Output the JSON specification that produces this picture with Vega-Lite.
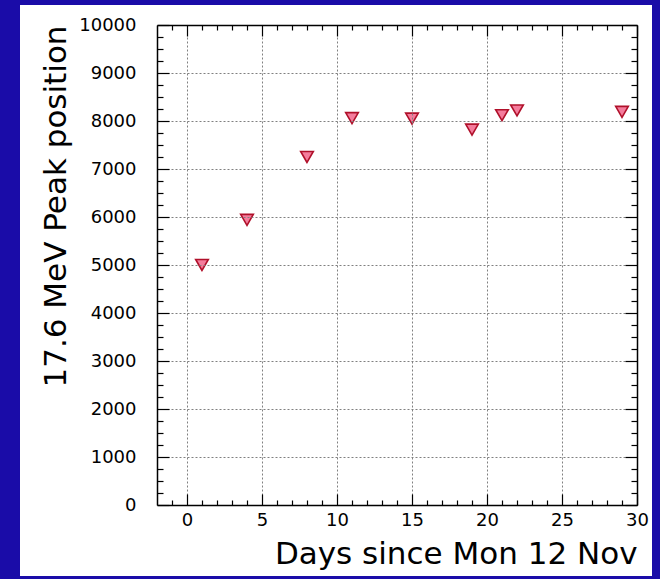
{
  "$schema": "https://vega.github.io/schema/vega-lite/v6.json",
  "width": 480,
  "height": 480,
  "autosize": {"type": "none"},
  "padding": {"left": 157, "top": 25, "right": 23, "bottom": 74},
  "background": "#1a0ca8",
  "config": {
    "view": {"stroke": null},
    "axis": {
      "domainColor": "#000000",
      "domainWidth": 1.5,
      "tickColor": "#000000",
      "tickWidth": 1.2,
      "labelFont": "DejaVu Sans",
      "labelFontSize": 18,
      "labelColor": "#000000",
      "titleFont": "DejaVu Sans",
      "titleFontSize": 31,
      "titleFontWeight": "normal",
      "titleColor": "#000000",
      "grid": false,
      "labelOverlap": false,
      "labelFlush": false
    }
  },
  "data": {
    "values": [
      {"day": 1, "peak": 5000},
      {"day": 4, "peak": 5940},
      {"day": 8, "peak": 7250},
      {"day": 11, "peak": 8060},
      {"day": 15, "peak": 8050},
      {"day": 19, "peak": 7820},
      {"day": 21, "peak": 8120},
      {"day": 22, "peak": 8220},
      {"day": 29, "peak": 8190}
    ]
  },
  "layer": [
    {
      "mark": {"type": "rect", "fill": "#ffffff", "clip": false},
      "encoding": {
        "x": {"datum": -11.13, "type": "quantitative", "scale": {"domain": [-2, 30], "nice": false, "zero": false}, "axis": null},
        "x2": {"datum": 31},
        "y": {"datum": 10417, "type": "quantitative", "scale": {"domain": [0, 10000], "nice": false, "zero": false}, "axis": null},
        "y2": {"datum": -1479}
      }
    },
    {
      "mark": {"type": "point", "opacity": 0},
      "encoding": {
        "x": {
          "field": "day", "type": "quantitative",
          "scale": {"domain": [-2, 30], "nice": false, "zero": false},
          "axis": {
            "zindex": 1,
            "orient": "top",
            "title": null,
            "labels": false,
            "domain": false,
            "values": [0, 5, 10, 15, 20, 25],
            "tickSize": -480,
            "tickColor": "#808080",
            "tickDash": [2, 2],
            "tickWidth": 1
          }
        },
        "y": {
          "field": "peak", "type": "quantitative",
          "scale": {"domain": [0, 10000], "nice": false, "zero": false},
          "axis": {
            "zindex": 1,
            "orient": "right",
            "title": null,
            "labels": false,
            "domain": false,
            "values": [1000, 2000, 3000, 4000, 5000, 6000, 7000, 8000, 9000],
            "tickSize": -480,
            "tickColor": "#808080",
            "tickDash": [2, 2],
            "tickWidth": 1
          }
        }
      }
    },
    {
      "mark": {"type": "point", "shape": "triangle-down", "filled": true, "fill": "#f47c9c", "stroke": "#b0102a", "strokeWidth": 1.6, "size": 160, "opacity": 1},
      "encoding": {
        "x": {
          "field": "day", "type": "quantitative",
          "scale": {"domain": [-2, 30], "nice": false, "zero": false},
          "axis": {
            "zindex": 2,
            "orient": "bottom",
            "title": "Days since Mon 12 Nov",
            "titleAnchor": "end",
            "titlePadding": 10,
            "ticks": false,
            "values": [0, 5, 10, 15, 20, 25, 30],
            "labelPadding": 6
          }
        },
        "y": {
          "field": "peak", "type": "quantitative",
          "scale": {"domain": [0, 10000], "nice": false, "zero": false},
          "axis": {
            "zindex": 2,
            "orient": "left",
            "title": "17.6 MeV Peak position",
            "titleAnchor": "end",
            "titlePadding": 6,
            "format": "d",
            "ticks": false,
            "values": [0, 1000, 2000, 3000, 4000, 5000, 6000, 7000, 8000, 9000, 10000],
            "labelPadding": 21
          }
        }
      }
    },
    {
      "mark": {"type": "point", "opacity": 0},
      "encoding": {
        "x": {
          "field": "day", "type": "quantitative",
          "scale": {"domain": [-2, 30], "nice": false, "zero": false},
          "axis": {
            "zindex": 2,
            "orient": "top",
            "title": null,
            "labels": false,
            "values": [-1,0,1,2,3,4,5,6,7,8,9,10,11,12,13,14,15,16,17,18,19,20,21,22,23,24,25,26,27,28,29,30],
            "tickSize": {"condition": {"test": "datum.value % 5 === 0", "value": -11}, "value": -5}
          }
        },
        "y": {
          "field": "peak", "type": "quantitative",
          "scale": {"domain": [0, 10000], "nice": false, "zero": false},
          "axis": {
            "zindex": 2,
            "orient": "right",
            "title": null,
            "labels": false,
            "values": [0,250,500,750,1000,1250,1500,1750,2000,2250,2500,2750,3000,3250,3500,3750,4000,4250,4500,4750,5000,5250,5500,5750,6000,6250,6500,6750,7000,7250,7500,7750,8000,8250,8500,8750,9000,9250,9500,9750,10000],
            "tickSize": {"condition": {"test": "datum.value % 1000 === 0", "value": -12}, "value": -6}
          }
        }
      }
    },
    {
      "mark": {"type": "point", "opacity": 0},
      "encoding": {
        "x": {
          "field": "day", "type": "quantitative",
          "scale": {"domain": [-2, 30], "nice": false, "zero": false},
          "axis": {
            "zindex": 2,
            "orient": "bottom",
            "title": null,
            "labels": false,
            "domain": false,
            "values": [-1,0,1,2,3,4,5,6,7,8,9,10,11,12,13,14,15,16,17,18,19,20,21,22,23,24,25,26,27,28,29,30],
            "tickSize": {"condition": {"test": "datum.value % 5 === 0", "value": -11}, "value": -5}
          }
        },
        "y": {
          "field": "peak", "type": "quantitative",
          "scale": {"domain": [0, 10000], "nice": false, "zero": false},
          "axis": {
            "zindex": 2,
            "orient": "left",
            "title": null,
            "labels": false,
            "domain": false,
            "values": [0,250,500,750,1000,1250,1500,1750,2000,2250,2500,2750,3000,3250,3500,3750,4000,4250,4500,4750,5000,5250,5500,5750,6000,6250,6500,6750,7000,7250,7500,7750,8000,8250,8500,8750,9000,9250,9500,9750,10000],
            "tickSize": {"condition": {"test": "datum.value % 1000 === 0", "value": -12}, "value": -6}
          }
        }
      }
    }
  ],
  "resolve": {"axis": {"x": "independent", "y": "independent"}}
}
